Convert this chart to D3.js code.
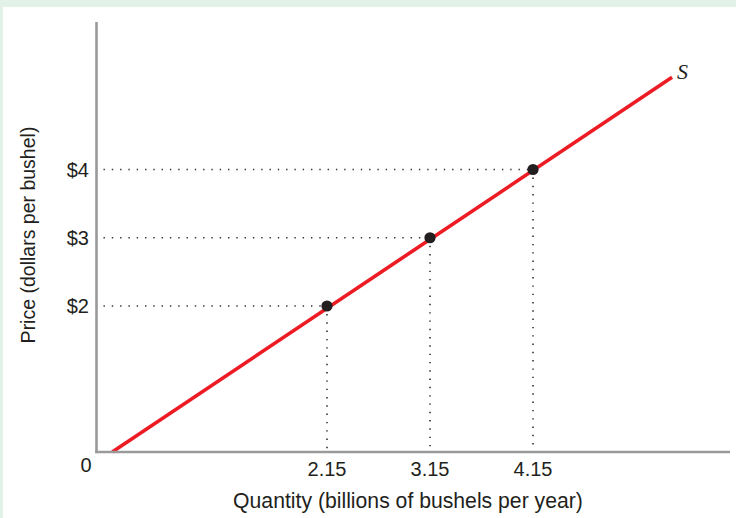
<!DOCTYPE html>
<html>
<head>
<meta charset="utf-8">
<script src="https://cdn.jsdelivr.net/npm/d3@7/dist/d3.min.js"></script>
<style>
  html, body { margin: 0; padding: 0; background: #fff; }
  svg { display: block; }
</style>
</head>
<body>
<svg id="chart" width="736" height="518"></svg>
<script>
// ---- data ----
const quantities = [2.15, 3.15, 4.15];          // billions of bushels per year
const prices = [2, 3, 4];                        // dollars per bushel
const priceTickLabels = ["$2", "$3", "$4"];
const quantityTickLabels = ["2.15", "3.15", "4.15"];
const supplyLine = [[0.065, -0.14], [5.5, 5.35]]; // S curve endpoints (quantity, price)
const curveLabel = "S";
const xTitle = "Quantity (billions of bushels per year)";
const yTitle = "Price (dollars per bushel)";

const svg = d3.select("#chart");
const W = 736, H = 518;
const sans = "'Liberation Sans', Arial, Helvetica, sans-serif";

// background panel
svg.append("rect").attr("x", 0).attr("y", 0).attr("width", W).attr("height", H).attr("fill", "#e2f2e8");
svg.append("rect").attr("x", 3).attr("y", 7).attr("width", W - 3).attr("height", H - 7).attr("fill", "#ffffff");

// scales (not drawn to exact zero, as in the textbook figure)
const x = d3.scaleLinear().domain([2.15, 4.15]).range([327, 533]);
const y = d3.scaleLinear().domain([2, 4]).range([306, 169.5]);

const axisX = 96.5, axisY = 452;

// dotted guide lines
const pts = quantities.map((q, i) => ({ q, p: prices[i] }));
const guides = svg.append("g");
pts.forEach(d => {
  guides.append("line")
    .attr("x1", axisX + 7).attr("x2", x(d.q))
    .attr("y1", y(d.p)).attr("y2", y(d.p))
    .attr("stroke", "#333").attr("stroke-width", 1.6)
    .attr("stroke-dasharray", "1.4,6.9").attr("stroke-linecap", "butt");
  guides.append("line")
    .attr("x1", x(d.q)).attr("x2", x(d.q))
    .attr("y1", y(d.p) + 8).attr("y2", axisY - 3)
    .attr("stroke", "#333").attr("stroke-width", 1.6)
    .attr("stroke-dasharray", "1.4,6.9").attr("stroke-linecap", "butt");
});

// supply line
const line = d3.line().x(d => x(d[0])).y(d => y(d[1]));
svg.append("path").datum(supplyLine)
  .attr("d", line)
  .attr("fill", "none").attr("stroke", "#ed1c24").attr("stroke-width", 3.6);

// axes
svg.append("line").attr("x1", axisX).attr("x2", axisX).attr("y1", 22).attr("y2", axisY + 1.2)
  .attr("stroke", "#9a9a9a").attr("stroke-width", 2.6);
svg.append("line").attr("x1", axisX - 1.3).attr("x2", 730).attr("y1", axisY).attr("y2", axisY)
  .attr("stroke", "#9a9a9a").attr("stroke-width", 2.6);

// points
svg.append("g").selectAll("circle").data(pts).join("circle")
  .attr("cx", d => x(d.q)).attr("cy", d => y(d.p)).attr("r", 5.6)
  .attr("fill", "#231f20");

// tick labels
const fs = 20;
svg.append("g").selectAll("text").data(prices).join("text")
  .attr("x", 89).attr("y", d => y(d)).attr("dy", "0.36em")
  .attr("text-anchor", "end").attr("font-size", fs)
  .attr("font-family", sans).attr("fill", "#231f20")
  .text((d, i) => priceTickLabels[i]);
svg.append("g").selectAll("text").data(quantities).join("text")
  .attr("x", d => x(d)).attr("y", 476)
  .attr("text-anchor", "middle").attr("font-size", fs)
  .attr("font-family", sans).attr("fill", "#231f20")
  .text((d, i) => quantityTickLabels[i]);
svg.append("text").attr("x", 86).attr("y", 472).attr("text-anchor", "middle")
  .attr("font-size", fs).attr("font-family", sans).attr("fill", "#231f20").text("0");

// titles
svg.append("text").attr("x", 408).attr("y", 508).attr("text-anchor", "middle")
  .attr("font-size", 21.2).attr("font-family", sans).attr("fill", "#231f20").text(xTitle);
svg.append("text").attr("transform", "translate(35,235) rotate(-90)")
  .attr("text-anchor", "middle").attr("font-size", 19.5)
  .attr("font-family", sans).attr("fill", "#231f20").text(yTitle);

// curve label
svg.append("text").attr("x", x(supplyLine[1][0]) + 5).attr("y", y(supplyLine[1][1]) + 2)
  .attr("font-family", "'Liberation Serif', 'Times New Roman', serif")
  .attr("font-style", "italic").attr("font-size", 22).attr("fill", "#231f20").text(curveLabel);
</script>
</body>
</html>
